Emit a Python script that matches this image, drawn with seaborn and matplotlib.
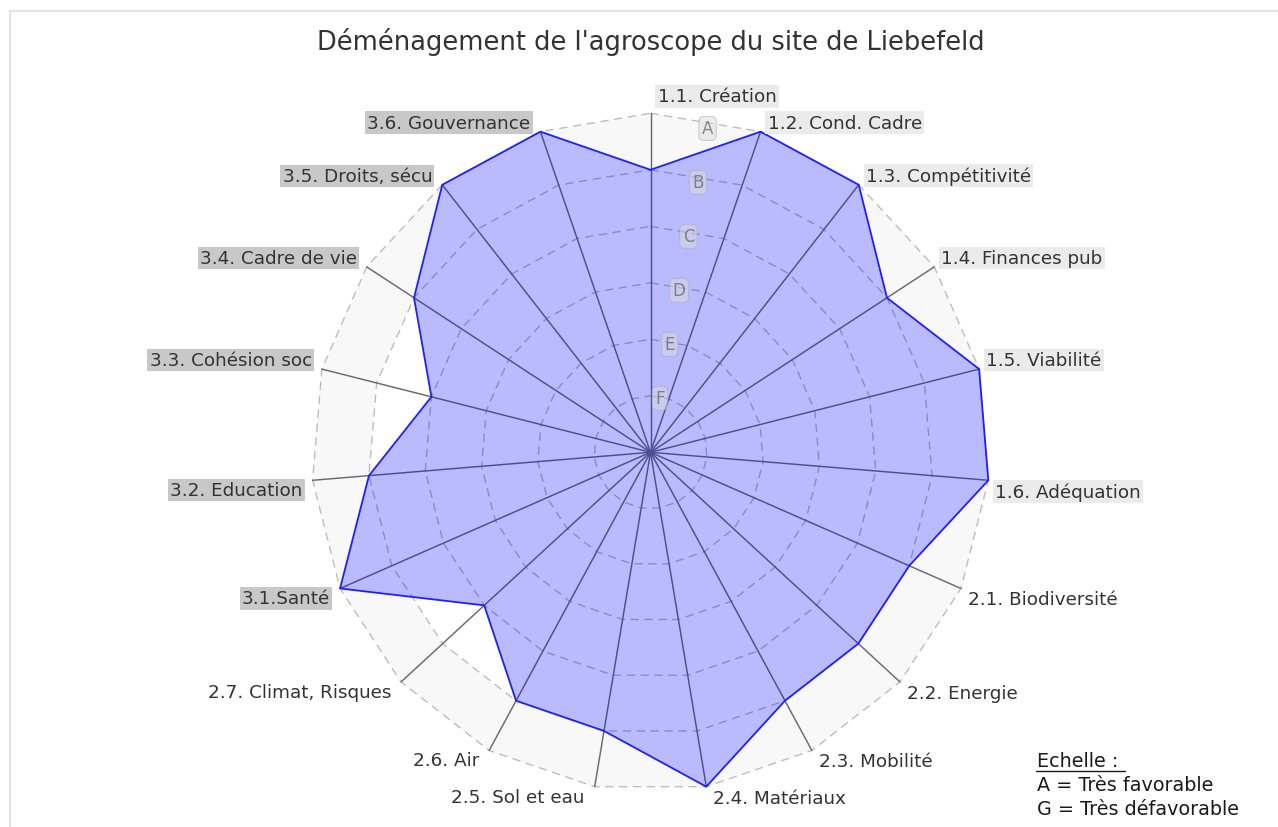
import numpy as np
import pandas as pd
import matplotlib
matplotlib.use("Agg")
import matplotlib.pyplot as plt
import seaborn as sns
from matplotlib.lines import Line2D

# ---------------- data ----------------
categories = ["1.1. Création", "1.2. Cond. Cadre", "1.3. Compétitivité", "1.4. Finances pub",
              "1.5. Viabilité", "1.6. Adéquation", "2.1. Biodiversité", "2.2. Energie",
              "2.3. Mobilité", "2.4. Matériaux", "2.5. Sol et eau", "2.6. Air",
              "2.7. Climat, Risques", "3.1.Santé", "3.2. Education", "3.3. Cohésion soc",
              "3.4. Cadre de vie", "3.5. Droits, sécu", "3.6. Gouvernance"]
scores = [5, 6, 6, 5, 6, 6, 5, 5, 5, 6, 5, 5, 4, 6, 5, 4, 5, 6, 6]   # 6 = A ... 1 = F, 0 = G
scale_letters = ["F", "E", "D", "C", "B", "A"]                        # levels 1..6
title = "Déménagement de l'agroscope du site de Liebefeld"
legend_lines = ["Echelle :", "A = Très favorable", "G = Très défavorable"]

# ---------------- style ----------------
sns.set_theme(style="white")
plt.rcParams["font.family"] = ["DejaVu Sans"]
plt.rcParams["lines.scale_dashes"] = False

W, H, DPI = 1278, 828, 100
CX, CY, UNIT = 650.5, 453.3, 56.5
PX = 72.0 / DPI

fig = plt.figure(figsize=(W / DPI, H / DPI), dpi=DPI, facecolor="white")
ax = fig.add_axes([0, 0, 1, 1])
ax.set_xlim(-CX / UNIT, (W - CX) / UNIT)
ax.set_ylim(-(H - CY) / UNIT, CY / UNIT)
ax.axis("off")

n = len(categories)
theta = np.arange(n) * 2 * np.pi / n
nlev = len(scale_letters)


def ring(r):
    t = np.append(theta, theta[0])
    return r * np.sin(t), r * np.cos(t)


vals = np.array(scores, dtype=float)
px = np.append(vals * np.sin(theta), vals[0] * np.sin(theta[0]))
py = np.append(vals * np.cos(theta), vals[0] * np.cos(theta[0]))

# outer band (only visible outside the data area)
bx, by = ring(nlev)
ax.fill(bx, by, color="#f8f8f8", lw=0, zorder=0)
bx, by = ring(nlev - 1)
ax.fill(bx, by, color="white", lw=0, zorder=0.1)
ax.fill(px, py, color="white", lw=0, zorder=0.2)

# dashed rings
for lev in range(1, nlev + 1):
    rx, ry = ring(lev)
    ax.plot(rx, ry, color="#bdbdbd", lw=1.0, ls=(0, (6, 4)), zorder=1)

# spokes
for t in theta:
    ax.plot([0, nlev * np.sin(t)], [0, nlev * np.cos(t)], color="#6a6a6a", lw=1.05, zorder=1.2)

# data polygon
ax.fill(px, py, color=(0.0, 0.0, 1.0), alpha=0.27, lw=0, zorder=2)
df = pd.DataFrame({"x": px, "y": py})
sns.lineplot(data=df, x="x", y="y", sort=False, estimator=None, color="#1f1fff",
             lw=1.3, ax=ax, zorder=3)

# scale letters
ang = np.deg2rad(10)
for lev, letter in enumerate(scale_letters, start=1):
    r = lev * 0.97
    ax.text(r * np.sin(ang), r * np.cos(ang), letter, ha="center", va="center",
            fontsize=12, color="#555555", alpha=0.65, zorder=4,
            bbox=dict(boxstyle="round,pad=0.18,rounding_size=0.3", fc="#dddddd",
                      ec="#aaaaaa", lw=0.8, alpha=0.5))

# category labels
for i, (cat, t) in enumerate(zip(categories, theta)):
    ex, ey = nlev * np.sin(t), nlev * np.cos(t)
    s = np.sin(t)
    if i == 0:
        ha, dx, dy = "left", 7, 17
    elif s > 0:
        ha, dx = "left", 7
        dy = 9 if np.cos(t) > 0 else -11
    else:
        ha, dx = "right", -10
        dy = 9 if np.cos(t) > 0 else -10
    group = cat[0]
    if group == "1":
        bb = dict(boxstyle="square,pad=0.12", fc="#ebebeb", ec="none")
    elif group == "3":
        bb = dict(boxstyle="square,pad=0.12", fc="#c8c8c8", ec="none")
    else:
        bb = None
    ax.annotate(cat, xy=(ex, ey), xytext=(dx * PX, dy * PX), textcoords="offset points",
                ha=ha, va="center", fontsize=13.2, color="#333333", bbox=bb, zorder=5)

# title
fig.text(650.5 / W, 1 - 42 / H, title, ha="center", va="center", fontsize=18.5, color="#333333")

# frame (top and left)
fig.add_artist(Line2D([10 / W, 1], [1 - 12 / H, 1 - 12 / H], color="#e3e3e3", lw=1.5,
                      transform=fig.transFigure))
fig.add_artist(Line2D([10 / W, 10 / W], [1 - 12 / H, 0], color="#e3e3e3", lw=1.5,
                      transform=fig.transFigure))

# legend
for j, line in enumerate(legend_lines):
    fig.text(1037 / W, 1 - (761.7 + 23.7 * j) / H, line, ha="left", va="center",
             fontsize=13.8, color="#1a1a1a")
fig.add_artist(Line2D([1035.7 / W, 1125 / W], [1 - 771.5 / H, 1 - 771.5 / H], color="#1a1a1a",
                      lw=1.0, transform=fig.transFigure))

fig.savefig("out.png", dpi=DPI, facecolor="white")
